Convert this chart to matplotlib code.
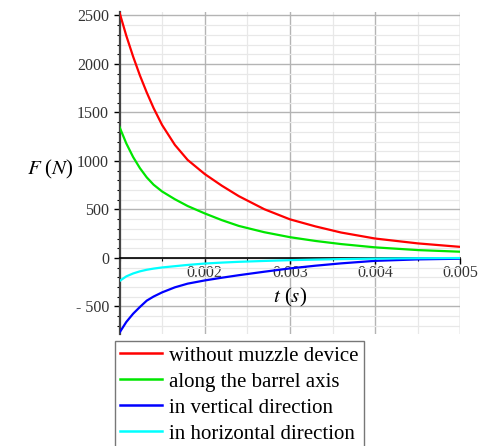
import matplotlib.pyplot as plt
import numpy as np
from matplotlib.ticker import MultipleLocator, FixedLocator

plt.rcParams['font.family'] = ['Liberation Serif', 'DejaVu Serif']

# data (t in s, F in N)
t = [0.001, 0.00108, 0.00116, 0.00124, 0.00132, 0.0014, 0.0015, 0.00165, 0.0018, 0.002,
     0.0022, 0.0024, 0.0027, 0.003, 0.0033, 0.0036, 0.004, 0.0045, 0.005]
f_none = [2530, 2290, 2075, 1880, 1705, 1545, 1370, 1165, 1010, 865,
          745, 637, 502, 398, 325, 262, 200, 150, 114]
f_axis = [1350, 1180, 1040, 925, 830, 755, 685, 605, 535, 459,
          390, 330, 265, 214, 175, 143, 109, 81, 64]
f_vert = [-770, -660, -575, -505, -440, -398, -355, -303, -265, -232,
          -204, -178, -142, -108, -80, -56, -30, -15, -8]
f_horiz = [-238, -190, -160, -138, -122, -110, -98, -85, -72, -58,
           -48, -40, -31, -23, -17, -12, -7, -3, -1]

labels = ['without muzzle device', 'along the barrel axis',
          'in vertical direction', 'in horizontal direction']
colors = ['#ff0000', '#00e600', '#0000ff', '#00ffff']

fig = plt.figure(figsize=(4.78, 4.46), dpi=100)
ax = fig.add_axes([0.250, 0.252, 0.713, 0.720])

for y, lab, c in zip([f_none, f_axis, f_vert, f_horiz], labels, colors):
    ax.plot(t, y, color=c, lw=1.6, label=lab, zorder=3)

ax.set_xlim(0.001, 0.005)
ax.set_ylim(-780, 2530)

# maple-ish axes: left spine at t=0.001, x axis through zero
ax.spines['top'].set_visible(False)
ax.spines['right'].set_visible(False)
ax.spines['bottom'].set_position(('data', 0))
ax.spines['left'].set_color('#444444')
ax.spines['left'].set_linewidth(1.6)
ax.spines['bottom'].set_linewidth(1.2)

ax.xaxis.set_major_locator(FixedLocator([0.002, 0.003, 0.004, 0.005]))
ax.xaxis.set_minor_locator(MultipleLocator(0.0005))
ax.set_xticklabels(['0.002', '0.003', '0.004', '0.005'])
yt = [-500, 0, 500, 1000, 1500, 2000, 2500]
ax.set_yticks(yt)
ax.set_yticklabels(['- 500' if v < 0 else str(v) for v in yt])
ax.yaxis.set_minor_locator(MultipleLocator(100))

ax.tick_params(axis='both', which='major', labelsize=11.5, length=4, width=1, labelcolor='#333333')
ax.tick_params(axis='both', which='minor', length=2.5, width=0.8)
ax.tick_params(axis='x', pad=1)

ax.grid(True, which='major', color='#b4b4b4', lw=1.0, zorder=0)
ax.grid(True, which='minor', color='#e8e8e8', lw=0.9, zorder=0)
ax.set_axisbelow(True)

ax.text(0.50, 0.114, '$t$ ($s$)', transform=ax.transAxes, fontsize=15,
        ha='center', va='center', math_fontfamily='stix')
fig.text(0.105, 0.619, '$F$ ($N$)', fontsize=15, ha='center', va='center',
         math_fontfamily='stix')

leg = fig.legend(loc='upper left', bbox_to_anchor=(0.240, 0.236), fontsize=15,
                 frameon=True, fancybox=False, edgecolor='#555555',
                 handlelength=2.0, handletextpad=0.35, labelspacing=0.31,
                 borderpad=0.25, borderaxespad=0)
leg.get_frame().set_linewidth(1.0)
for h in leg.get_lines():
    h.set_linewidth(1.8)

fig.savefig('out.png', dpi=100)
